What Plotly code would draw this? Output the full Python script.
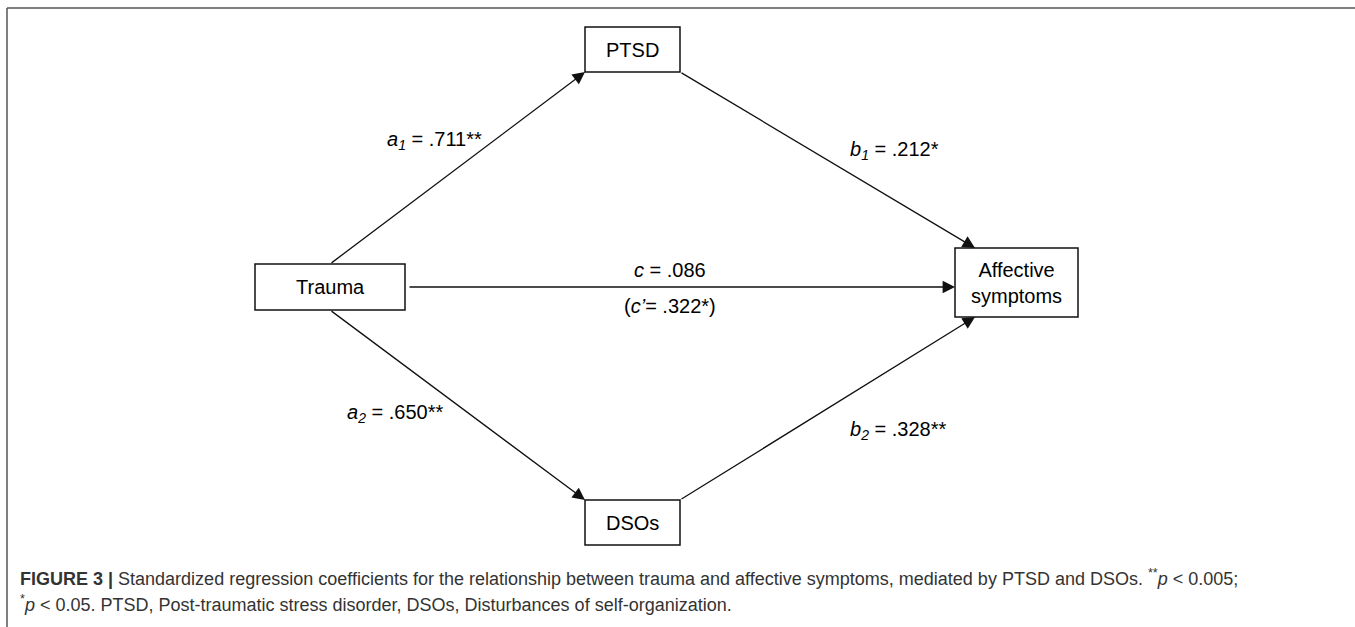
import plotly.graph_objects as go

# ---- data ----
node_names = ["Trauma", "PTSD", "DSOs", "Affective<br>symptoms"]
coef_names = ["a1", "b1", "c", "c_prime", "a2", "b2"]
coef_values = [".711", ".212", ".086", ".322", ".650", ".328"]
coef_stars = ["**", "*", "", "*", "**", "**"]
caption_line1 = ("<b>FIGURE 3 |</b> Standardized regression coefficients for the relationship between trauma "
                 "and affective symptoms, mediated by PTSD and DSOs. <sup>**</sup><i>p</i> &lt; 0.005;")
caption_line2 = ("<sup>*</sup><i>p</i> &lt; 0.05. PTSD, Post-traumatic stress disorder, DSOs, "
                 "Disturbances of self-organization.")

# ---- layout geometry (pixel space) ----
W, H = 1355, 627
boxes = {
    "Trauma": (255, 405, 264, 310),
    "PTSD": (585, 680, 27, 72),
    "DSOs": (585, 680, 500, 545),
    "Affective<br>symptoms": (955, 1078, 248, 317),
}

fig = go.Figure()
fig.add_trace(go.Scatter(x=[0, W], y=[0, H], mode="markers", marker=dict(opacity=0), hoverinfo="skip", showlegend=False))

shapes = []
# frame
shapes.append(dict(type="line", xref="x", yref="y", x0=7, x1=W, y0=8, y1=8, line=dict(color="#555555", width=1.5)))
shapes.append(dict(type="line", xref="x", yref="y", x0=7, x1=7, y0=8, y1=H, line=dict(color="#555555", width=1.5)))

annotations = []
font_main = dict(family="Liberation Sans, Arial, sans-serif", size=20, color="#000000")
for name in node_names:
    x0, x1, y0, y1 = boxes[name]
    shapes.append(dict(type="rect", xref="x", yref="y", x0=x0, x1=x1, y0=y0, y1=y1,
                       line=dict(color="#111111", width=1.5), fillcolor="white"))
    annotations.append(dict(x=(x0 + x1) / 2, y=(y0 + y1) / 2, xref="x", yref="y", text=name,
                            showarrow=False, font=font_main, align="center"))

# arrows: (head_x, head_y, tail_x, tail_y)
arrows = [
    (585, 72, 330, 264),    # Trauma -> PTSD
    (975, 248, 680, 72),    # PTSD -> Affective
    (955, 287, 408, 287),   # Trauma -> Affective
    (585, 500, 330, 310),   # Trauma -> DSOs
    (975, 317, 680, 500),   # DSOs -> Affective
]
for hx, hy, tx, ty in arrows:
    annotations.append(dict(x=hx, y=hy, ax=tx, ay=ty, xref="x", yref="y", axref="x", ayref="y",
                            text="", showarrow=True, arrowhead=2, arrowsize=1.9, arrowwidth=1.3,
                            arrowcolor="#111111", standoff=0, startstandoff=0))

vals = dict(zip(coef_names, zip(coef_values, coef_stars)))
def lab(sym, sub, key):
    v, s = vals[key]
    return f"<i>{sym}</i><sub><i>{sub}</i></sub> = {v}{s}"

label_specs = [
    (lab("a", "1", "a1"), 385, 140, "left"),
    (lab("b", "1", "b1"), 848, 150, "left"),
    (lab("a", "2", "a2"), 345, 413, "left"),
    (lab("b", "2", "b2"), 848, 430, "left"),
    (f"<i>c</i> = {vals['c'][0]}{vals['c'][1]}", 670, 270, "center"),
    (f"(<i>c’</i>= {vals['c_prime'][0]}{vals['c_prime'][1]})", 670, 306, "center"),
]
for txt, x, y, anc in label_specs:
    annotations.append(dict(x=x, y=y, xref="x", yref="y", text=txt, showarrow=False,
                            xanchor=anc, yanchor="middle", font=font_main))

font_cap = dict(family="Liberation Sans, Arial, sans-serif", size=18, color="#333333")
annotations.append(dict(x=18, y=577, xref="x", yref="y", text=caption_line1, showarrow=False,
                        xanchor="left", yanchor="middle", font=font_cap))
annotations.append(dict(x=18, y=603, xref="x", yref="y", text=caption_line2, showarrow=False,
                        xanchor="left", yanchor="middle", font=font_cap))

fig.update_layout(
    width=W, height=H, margin=dict(l=0, r=0, t=0, b=0),
    paper_bgcolor="white", plot_bgcolor="white",
    xaxis=dict(range=[0, W], visible=False, fixedrange=True),
    yaxis=dict(range=[H, 0], visible=False, fixedrange=True),
    shapes=shapes, annotations=annotations, showlegend=False,
)
fig.write_html("out.html", config={"displayModeBar": False},
               post_script="document.body.style.margin='0';document.body.style.overflow='hidden';")
